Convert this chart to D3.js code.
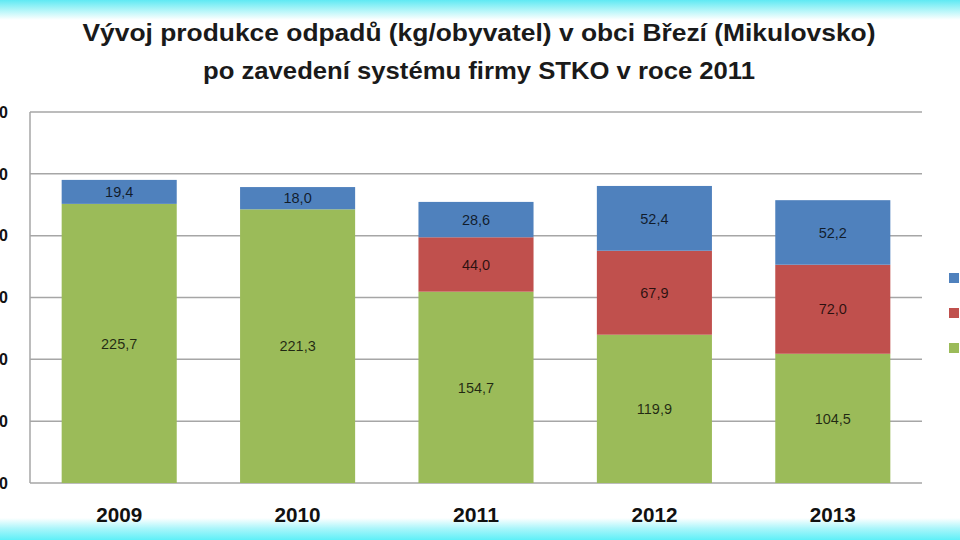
<!DOCTYPE html>
<html><head><meta charset="utf-8">
<script src="https://cdn.jsdelivr.net/npm/d3@7"></script>
<style>html,body{margin:0;padding:0;background:#fff;overflow:hidden}</style>
</head><body>
<svg id="c" width="960" height="540"></svg>
<script>
const years = ["2009", "2010", "2011", "2012", "2013"];
const seriesNames = ["Směsný komunální odpad", "Bioodpad", "Tříděný odpad"];
const greenValues = [225.7, 221.3, 154.7, 119.9, 104.5];
const redValues = [0, 0, 44.0, 67.9, 72.0];
const blueValues = [19.4, 18.0, 28.6, 52.4, 52.2];
const yTicks = [0, 50, 100, 150, 200, 250, 300];
const titleLines = ["Vývoj produkce odpadů (kg/obyvatel) v obci Březí (Mikulovsko)", "po zavedení systému firmy STKO v roce 2011"];

const colors = ["#9BBB59", "#C0504D", "#4F81BD"];
const seriesValues = [greenValues, redValues, blueValues];

const svg = d3.select("#c");
const W = 960, H = 540;
const defs = svg.append("defs");
const gTop = defs.append("linearGradient").attr("id","gt").attr("x1",0).attr("x2",0).attr("y1",0).attr("y2",1);
gTop.append("stop").attr("offset","0%").attr("stop-color","#5fe9f3");
gTop.append("stop").attr("offset","45%").attr("stop-color","#a8f4f8");
gTop.append("stop").attr("offset","100%").attr("stop-color","#ffffff");
const gBot = defs.append("linearGradient").attr("id","gb").attr("x1",0).attr("x2",0).attr("y1",0).attr("y2",1);
gBot.append("stop").attr("offset","0%").attr("stop-color","#ffffff");
gBot.append("stop").attr("offset","50%").attr("stop-color","#a6f5fa");
gBot.append("stop").attr("offset","100%").attr("stop-color","#5ff0f8");

svg.append("rect").attr("width",W).attr("height",H).attr("fill","#fff");
svg.append("rect").attr("x",0).attr("y",0).attr("width",W).attr("height",20).attr("fill","url(#gt)");
svg.append("rect").attr("x",0).attr("y",518).attr("width",W).attr("height",22).attr("fill","url(#gb)");

const plotLeft = 30, plotRight = 922, plotTop = 112, plotBottom = 483;
const x = d3.scaleBand().domain(years).range([plotLeft, plotRight]).paddingInner(0.355).paddingOuter(0.1775);
const y = d3.scaleLinear().domain([0, 300]).range([plotBottom, plotTop]);

// gridlines
svg.append("g").selectAll("line").data(yTicks).join("line")
  .attr("x1", plotLeft).attr("x2", plotRight)
  .attr("y1", d => y(d)).attr("y2", d => y(d))
  .attr("stroke", "#a6a6a6").attr("stroke-width", 1.5);
// left axis
svg.append("line").attr("x1", plotLeft).attr("x2", plotLeft).attr("y1", plotTop).attr("y2", plotBottom)
  .attr("stroke", "#a6a6a6").attr("stroke-width", 1.5);

// y tick labels (clipped at left edge, as in the reference)
svg.append("g").selectAll("text").data(yTicks).join("text")
  .attr("x", 8).attr("y", d => y(d)).attr("dy", "0.36em")
  .attr("text-anchor", "end")
  .attr("font-family", "'Liberation Sans', Arial, sans-serif").attr("font-weight", "bold")
  .attr("font-size", 16).attr("fill", "#111")
  .text(d => d);

// stacked bars
const stackData = years.map((yr, i) => {
  const o = {year: yr};
  seriesValues.forEach((s, k) => o["s" + k] = s[i]);
  return o;
});
const stack = d3.stack().keys(["s0", "s1", "s2"])(stackData);
stack.forEach((layer, k) => {
  const g = svg.append("g");
  g.selectAll("rect").data(layer.filter(d => d[1] - d[0] > 0)).join("rect")
    .attr("x", d => x(d.data.year)).attr("width", x.bandwidth())
    .attr("y", d => y(d[1])).attr("height", d => y(d[0]) - y(d[1]))
    .attr("fill", colors[k]);
  g.selectAll("text").data(layer.filter(d => d[1] - d[0] > 0)).join("text")
    .attr("x", d => x(d.data.year) + x.bandwidth() / 2)
    .attr("y", d => (y(d[0]) + y(d[1])) / 2).attr("dy", "0.36em")
    .attr("text-anchor", "middle")
    .attr("font-family", "'Liberation Sans', Arial, sans-serif")
    .attr("font-size", 14.5).attr("fill", "#000").attr("fill-opacity", 0.78)
    .text(d => d3.format(".1f")(d[1] - d[0]).replace(".", ","));
});

// x labels
svg.append("g").selectAll("text").data(years).join("text")
  .attr("x", d => x(d) + x.bandwidth() / 2).attr("y", 522)
  .attr("text-anchor", "middle")
  .attr("font-family", "'Liberation Sans', Arial, sans-serif").attr("font-weight", "bold")
  .attr("font-size", 21).attr("fill", "#111")
  .attr("textLength", 46).attr("lengthAdjust", "spacingAndGlyphs")
  .text(d => d);

// title
const titleY = [41, 79];
const titleW = [793, 552];
titleLines.forEach((t, i) => {
  svg.append("text").attr("x", 479).attr("y", titleY[i]).attr("text-anchor", "middle")
    .attr("font-family", "'Liberation Sans', Arial, sans-serif").attr("font-weight", "bold")
    .attr("font-size", 24).attr("fill", "#1a1a1a")
    .attr("textLength", titleW[i]).attr("lengthAdjust", "spacingAndGlyphs")
    .text(t);
});

// legend (reversed order, clipped at right edge as in the reference)
const legendOrder = [2, 1, 0];
const lg = svg.append("g");
legendOrder.forEach((k, i) => {
  const cy = 278 + i * 35;
  lg.append("rect").attr("x", 949).attr("y", cy - 5).attr("width", 10).attr("height", 10).attr("fill", colors[k]);
  lg.append("text").attr("x", 965).attr("y", cy).attr("dy", "0.36em")
    .attr("font-family", "'Liberation Sans', Arial, sans-serif").attr("font-size", 14).attr("fill", "#111")
    .text(seriesNames[k]);
});
</script>
</body></html>
